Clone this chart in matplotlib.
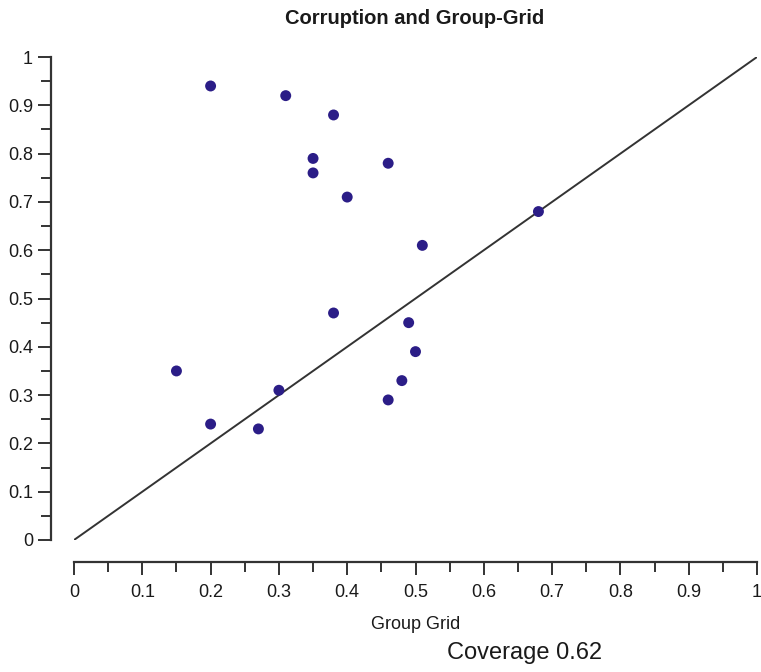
import numpy as np
import matplotlib
matplotlib.use("Agg")
import matplotlib.pyplot as plt
from matplotlib.ticker import MultipleLocator

# =========================================================
# DATA
# =========================================================
group_grid = [0.20, 0.31, 0.38, 0.35, 0.35, 0.46, 0.40, 0.51, 0.68,
              0.38, 0.49, 0.50, 0.15, 0.48, 0.30, 0.46, 0.20, 0.27]
corruption = [0.94, 0.92, 0.88, 0.79, 0.76, 0.78, 0.71, 0.61, 0.68,
              0.47, 0.45, 0.39, 0.35, 0.33, 0.31, 0.29, 0.24, 0.23]
diag = [0, 1]
ticks = [0, 0.1, 0.2, 0.3, 0.4, 0.5, 0.6, 0.7, 0.8, 0.9, 1]
tick_labels = ["0", "0.1", "0.2", "0.3", "0.4", "0.5", "0.6", "0.7", "0.8", "0.9", "1"]

plt.rcParams["font.family"] = ["Liberation Sans", "DejaVu Sans"]

W, H = 761, 672
fig = plt.figure(figsize=(W / 100, H / 100), dpi=100)
ax = fig.add_axes([74 / W, (H - 540) / H, 683 / W, 483 / H])

ax.plot(diag, diag, color="#333333", linewidth=1.4, zorder=2)
ax.scatter(group_grid, corruption, s=62, color="#2b1d87", edgecolors="none", zorder=3)

ax.set_xlim(0, 1)
ax.set_ylim(0, 1)

for side in ["top", "right"]:
    ax.spines[side].set_visible(False)
ax.spines["left"].set_position(("outward", 16.5))
ax.spines["bottom"].set_position(("outward", 16))
for side in ["left", "bottom"]:
    ax.spines[side].set_bounds(0, 1)
    ax.spines[side].set_color("#333333")
    ax.spines[side].set_linewidth(1.6)

ax.set_xticks(ticks)
ax.set_xticklabels(tick_labels)
ax.set_yticks(ticks)
ax.set_yticklabels(tick_labels)
ax.xaxis.set_minor_locator(MultipleLocator(0.05))
ax.yaxis.set_minor_locator(MultipleLocator(0.05))

ax.tick_params(axis="both", which="major", direction="out", length=9.5,
               width=1.4, color="#333333", labelsize=13, labelcolor="#1a1a1a")
ax.tick_params(axis="both", which="minor", direction="out", length=7,
               width=1.4, color="#333333")
ax.tick_params(axis="x", which="major", pad=6.5)
ax.tick_params(axis="y", which="major", pad=3.5)

ax.set_xlabel("Group Grid", fontsize=13, labelpad=10.5, color="#1a1a1a")

fig.text(415 / W, 1 - 19 / H, "Corruption and Group-Grid", ha="center", va="center",
         fontsize=14.5, fontweight="bold", color="#1a1a1a")
fig.text(525 / W, 1 - 653 / H, "Coverage 0.62", ha="center", va="center",
         fontsize=17, color="#1a1a1a")

plt.savefig("out.png", dpi=100)
plt.close()
print("Saved: out.png")
